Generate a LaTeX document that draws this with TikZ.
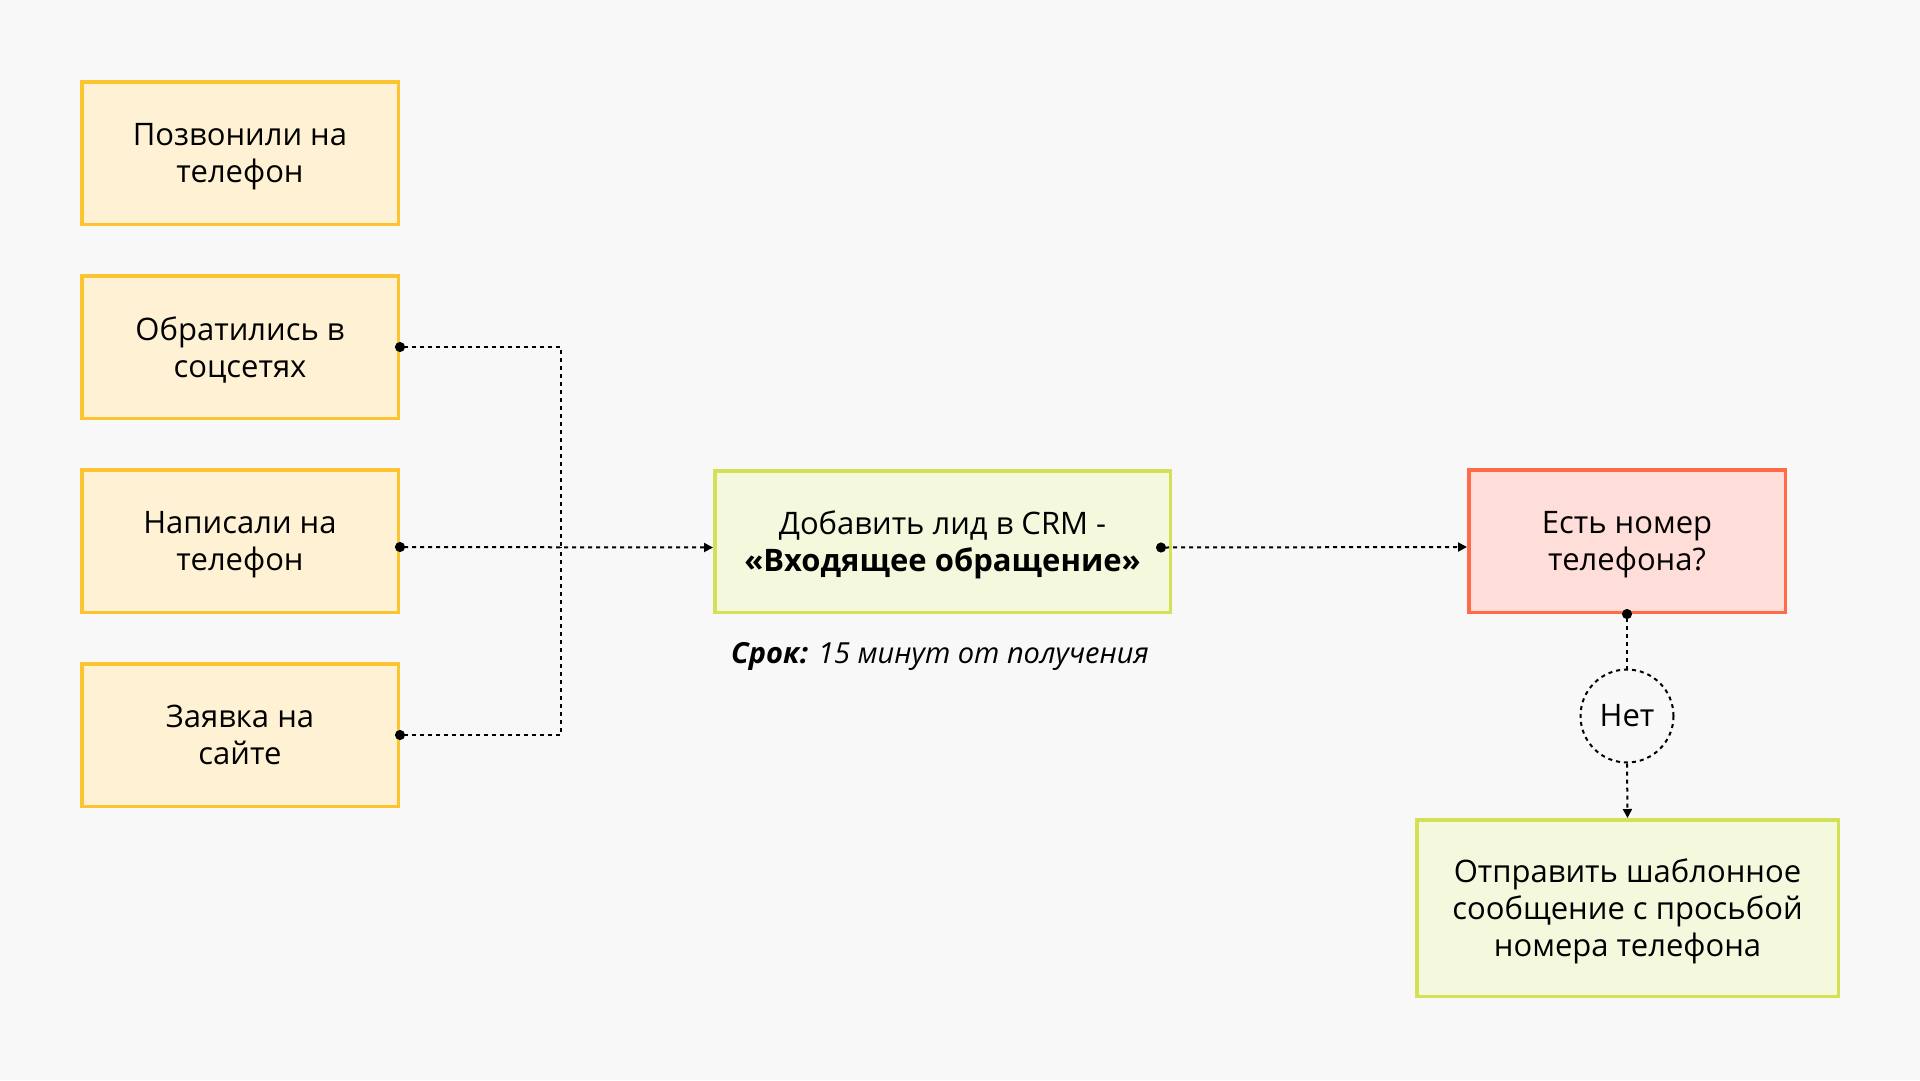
\documentclass[tikz,border=0pt]{standalone}
\usepackage{fontspec}
\setmainfont{Open Sans}
\usepackage{xcolor}
\usetikzlibrary{arrows.meta,positioning}

\definecolor{bgcol}{HTML}{F8F8F8}
\definecolor{srcline}{HTML}{FBC430}
\definecolor{srcfill}{HTML}{FFF2D4}
\definecolor{actline}{HTML}{D4E157}
\definecolor{actfill}{HTML}{F4F9DD}
\definecolor{askline}{HTML}{FF6B47}
\definecolor{askfill}{HTML}{FFDED9}

\begin{document}
\begin{tikzpicture}[x=1pt, y=-1pt,
  box/.style={rectangle, draw, line width=3.5pt, inner sep=0pt, align=center, text depth=0pt, font=\fontsize{31}{37}\selectfont},
  source/.style={box, draw=srcline, fill=srcfill, minimum width=316.5pt, minimum height=142.5pt},
  action/.style={box, draw=actline, fill=actfill},
  check/.style={box, draw=askline, fill=askfill, minimum width=316.5pt, minimum height=142.5pt},
  answer/.style={circle, draw, line width=2pt, dash pattern=on 4pt off 4pt, minimum size=93pt, inner sep=0pt, font=\fontsize{31}{37}\selectfont},
  note/.style={font=\fontsize{29}{34}\selectfont\itshape},
  dots/.style={line width=2pt, dash pattern=on 4pt off 4pt},
  link/.style={dots, {Circle[length=10pt]}-, shorten <=-5pt},
  flow/.style={link, {Circle[length=10pt]}-{Triangle[length=9pt,width=9pt]}},
  drop/.style={dots, -{Triangle[length=9pt,width=9pt]}}
]

\path[use as bounding box, fill=bgcol] (0,0) rectangle (1920,1080);

\node[source] (call) at (240,153) {Позвонили на\\телефон};
\node[source] (social) at (240,347) {Обратились в\\соцсетях};
\node[source] (write) at (240,541) {Написали на\\телефон};
\node[source] (site) at (240,735) {Заявка на\\сайте};
\node[action, minimum width=455.5pt, minimum height=141.5pt] (crm) at (942.5,541.5) {Добавить лид в CRM -\\\textbf{«Входящее обращение»}};
\node[note] (term) at (940,656) {\textbf{Срок:} 15 минут от получения};
\node[check] (phone) at (1627,541) {Есть номер\\телефона?};
\node[answer] (no) at (1627,716) {Нет};
\node[action, minimum width=421.5pt, minimum height=176.5pt] (template) at (1627.5,908) {Отправить шаблонное\\сообщение с просьбой\\номера телефона};

\coordinate (bus) at (561,547);

% Connectors
\draw[link] (social.east) -| (bus);
\draw[link] (site.east) -| (bus);
\draw[flow] ([yshift=-6pt]write.east) -- ([yshift=-6pt]crm.west);
\draw[flow] ([xshift=-11pt, yshift=-6pt]crm.east) -- ([yshift=-6pt]phone.west);
\draw[link] (phone.south) -- (no.north);
\draw[drop] (no.south) -- (template.north);

\end{tikzpicture}
\end{document}
